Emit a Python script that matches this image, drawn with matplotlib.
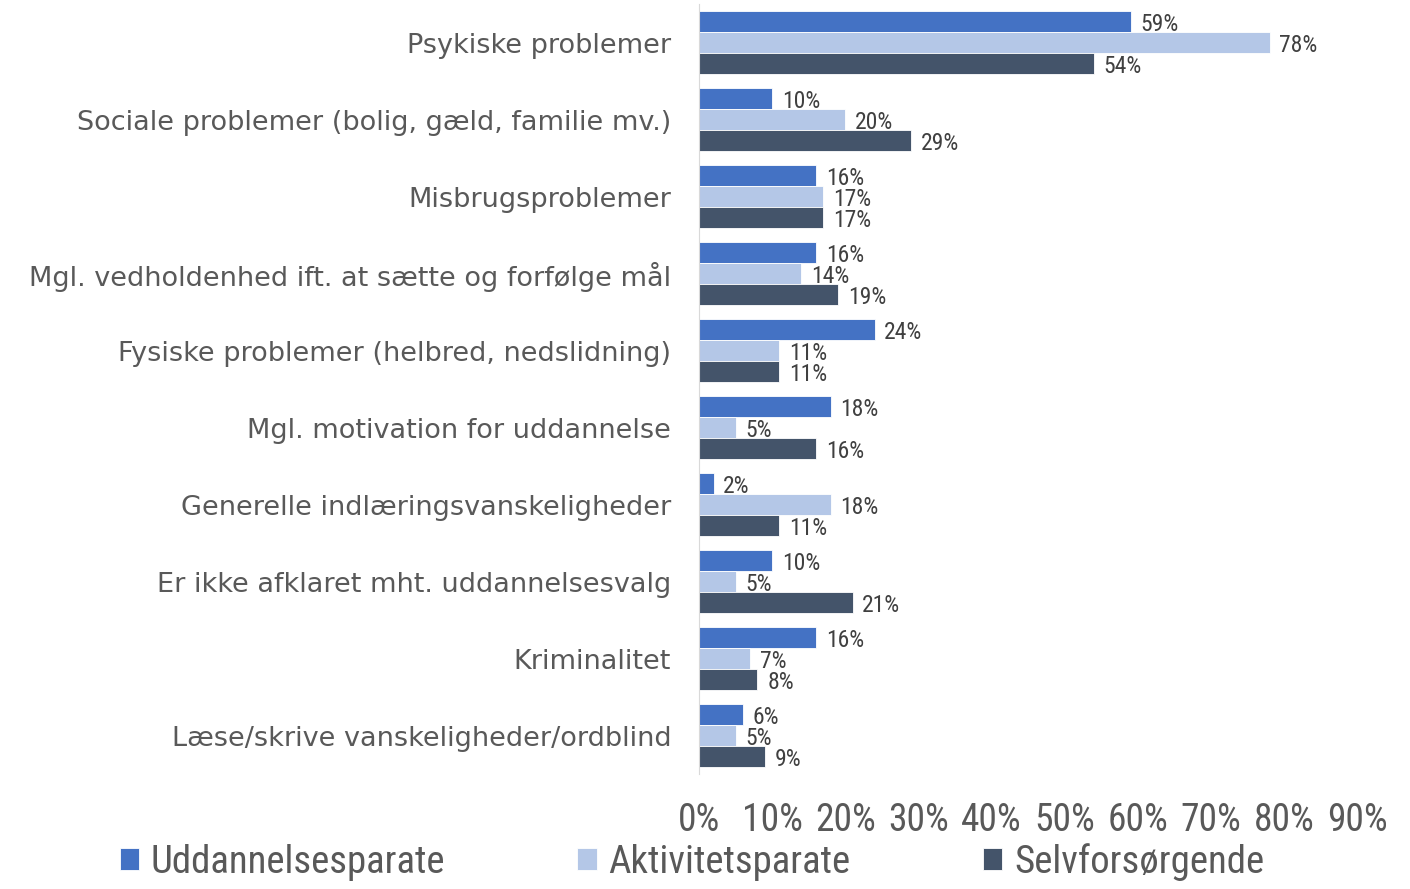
import numpy as np
import matplotlib
matplotlib.use('Agg')
import matplotlib.pyplot as plt
from matplotlib.ticker import FuncFormatter

categories = [
    'Psykiske problemer',
    'Sociale problemer (bolig, gæld, familie mv.)',
    'Misbrugsproblemer',
    'Mgl. vedholdenhed ift. at sætte og forfølge mål',
    'Fysiske problemer (helbred, nedslidning)',
    'Mgl. motivation for uddannelse',
    'Generelle indlæringsvanskeligheder',
    'Er ikke afklaret mht. uddannelsesvalg',
    'Kriminalitet',
    'Læse/skrive vanskeligheder/ordblind',
]
uddannelsesparate = [59, 10, 16, 16, 24, 18, 2, 10, 16, 6]
aktivitetsparate = [78, 20, 17, 14, 11, 5, 18, 5, 7, 5]
selvforsorgende = [54, 29, 17, 19, 11, 16, 11, 21, 8, 9]
series_names = ['Uddannelsesparate', 'Aktivitetsparate', 'Selvforsørgende']
colors = ['#4472C4', '#B4C7E7', '#44546A']
xticks = [0, 10, 20, 30, 40, 50, 60, 70, 80, 90]

text_color = '#595959'
narrow = ['Liberation Sans Narrow', 'Roboto Condensed', 'DejaVu Sans Condensed', 'DejaVu Sans']

fig = plt.figure(figsize=(14.1, 8.89), dpi=100)
ax = fig.add_axes([0.4957, 0.129, 0.467, 0.866])

y = np.arange(len(categories))
h = 0.273
for i, (vals, name, c) in enumerate(zip(
        [uddannelsesparate, aktivitetsparate, selvforsorgende], series_names, colors)):
    pos = y + (i - 1) * h
    ax.barh(pos, vals, height=h, color=c, label=name,
            edgecolor='white', linewidth=0.6)
    for p, v in zip(pos, vals):
        ax.annotate(f'{v}%', (v, p), xytext=(7, -2), textcoords='offset points',
                    va='center', ha='left', fontsize=17, color='#404040',
                    family=narrow)

ax.set_ylim(len(categories) - 0.5, -0.5)
ax.set_xlim(0, 90)
ax.set_xticks(xticks)
ax.xaxis.set_major_formatter(FuncFormatter(lambda v, _: f'{v:.0f}%'))
ax.set_yticks(y)
ax.set_yticklabels(categories, fontsize=19.5, color=text_color)
for lab in ax.get_xticklabels():
    lab.set_fontsize(27)
    lab.set_color(text_color)
    lab.set_family(narrow)
ax.tick_params(axis='both', length=0)
ax.tick_params(axis='y', pad=20)
ax.tick_params(axis='x', pad=20)
for s in ['top', 'right', 'bottom']:
    ax.spines[s].set_visible(False)
ax.spines['left'].set_color('#D9D9D9')

leg = fig.legend(loc='lower left', bbox_to_anchor=(0.06, -0.03), ncol=3,
                 frameon=False, handlelength=0.5, handleheight=0.5,
                 handletextpad=0.3, columnspacing=3.4,
                 prop={'family': narrow, 'size': 28})
for t in leg.get_texts():
    t.set_color(text_color)

fig.savefig('out.png', dpi=100)
